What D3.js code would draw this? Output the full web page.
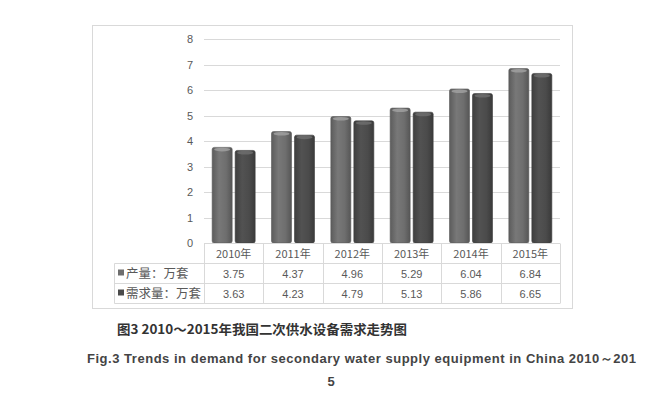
<!DOCTYPE html>
<html><head><meta charset="utf-8">
<script src="https://cdn.jsdelivr.net/npm/d3@7"></script>
<style>body{margin:0;background:#fff;} svg{display:block;}</style>
</head><body>
<svg id="c" width="672" height="395"></svg>
<script>
const categories = ["2010年","2011年","2012年","2013年","2014年","2015年"];
const seriesNames = ["产量：万套","需求量：万套"];
const production = [3.75,4.37,4.96,5.29,6.04,6.84];
const demand = [3.63,4.23,4.79,5.13,5.86,6.65];
const yTicks = [0,1,2,3,4,5,6,7,8];
const titleCN = "图3 2010～2015年我国二次供水设备需求走势图";
const titleEN1 = "Fig.3 Trends in demand for secondary water supply equipment in China 2010～201";
const titleEN2 = "5";

const svg = d3.select("#c");
const defs = svg.append("defs");
const colors = ["#6e6e6e","#4b4b4b"];
function grad(id, c){
  const g = defs.append("linearGradient").attr("id",id).attr("x1","0").attr("x2","1").attr("y1","0").attr("y2","0");
  const base = d3.color(c);
  g.append("stop").attr("offset","0%").attr("stop-color",base.darker(0.5));
  g.append("stop").attr("offset","35%").attr("stop-color",base.brighter(0.25));
  g.append("stop").attr("offset","70%").attr("stop-color",base);
  g.append("stop").attr("offset","100%").attr("stop-color",base.darker(0.7));
}
grad("g0",colors[0]); grad("g1",colors[1]);

// outer frame
svg.append("rect").attr("x",92.5).attr("y",25.5).attr("width",480).attr("height",283)
  .attr("fill","none").attr("stroke","#d9d9d9");

const x = d3.scaleBand().domain(categories).range([204,560]);
const y = d3.scaleLinear().domain([0,8]).range([243,39]);

// gridlines
svg.append("g").selectAll("line").data(yTicks.filter(d=>d>0)).join("line")
  .attr("x1",204).attr("x2",560).attr("y1",d=>Math.round(y(d))+0.5).attr("y2",d=>Math.round(y(d))+0.5)
  .attr("stroke","#d9d9d9");

// y axis labels
const yAxis = d3.axisLeft(y).tickValues(yTicks).tickSize(0).tickPadding(0);
const ya = svg.append("g").attr("transform","translate(193,0)").call(yAxis);
ya.select(".domain").remove();
ya.selectAll("text").attr("font-family","Liberation Sans, Arial, sans-serif").attr("font-size",11).attr("fill","#595959");

// bars
const barW = 20, gap = 3;
const series = [production, demand];
series.forEach((vals, si) => {
  const g = svg.append("g");
  const xs = d => x(categories[d]) + x.bandwidth()/2 - (barW + gap/2) + si*(barW+gap);
  g.selectAll("rect").data(vals.map((v,i)=>({v,i}))).join("rect")
    .attr("x",d=>xs(d.i)).attr("y",d=>y(d.v)).attr("width",barW).attr("height",d=>y(0)-y(d.v))
    .attr("rx",2).attr("fill",`url(#g${si})`).attr("stroke",d3.color(colors[si]).darker(0.6)).attr("stroke-width",0.6);
  g.selectAll("ellipse").data(vals.map((v,i)=>({v,i}))).join("ellipse")
    .attr("cx",d=>xs(d.i)+barW/2).attr("cy",d=>y(d.v)+2.2).attr("rx",barW/2-2).attr("ry",1.8)
    .attr("fill",d3.color(colors[si]).brighter(1.1)).attr("opacity",0.8);
});

// data table
const tbl = svg.append("g");
const rowsY = [243.5, 263.5, 283.5, 303.5];
const tLeft = 114.5, tRight = 560;
const tc = "#d9d9d9";
// horizontal lines
tbl.append("line").attr("x1",204).attr("x2",tRight).attr("y1",rowsY[0]).attr("y2",rowsY[0]).attr("stroke",tc);
[1,2,3].forEach(r=>tbl.append("line").attr("x1",tLeft).attr("x2",tRight).attr("y1",rowsY[r]).attr("y2",rowsY[r]).attr("stroke",tc));
// vertical lines
tbl.append("line").attr("x1",tLeft).attr("x2",tLeft).attr("y1",rowsY[1]).attr("y2",rowsY[3]).attr("stroke",tc);
categories.forEach(c=>{
  const xx = Math.round(x(c))+0.5;
  tbl.append("line").attr("x1",xx).attr("x2",xx).attr("y1",rowsY[0]).attr("y2",rowsY[3]).attr("stroke",tc);
});
tbl.append("line").attr("x1",tRight+0.5).attr("x2",tRight+0.5).attr("y1",rowsY[0]).attr("y2",rowsY[3]).attr("stroke",tc);

const font = "Liberation Sans, Arial, sans-serif";
const cjk = "'Noto Sans CJK SC', sans-serif";
tbl.selectAll("text.cat").data(categories).join("text").attr("class","cat")
  .attr("x",d=>x(d)+x.bandwidth()/2).attr("y",257.5).attr("text-anchor","middle")
  .attr("font-family",cjk).attr("font-size",11).attr("fill","#595959").text(d=>d);
series.forEach((vals,si)=>{
  const yy = rowsY[si+1] + 14;
  tbl.selectAll(`text.v${si}`).data(vals).join("text").attr("class",`v${si}`)
    .attr("x",(d,i)=>x(categories[i])+x.bandwidth()/2).attr("y",yy).attr("text-anchor","middle")
    .attr("font-family",font).attr("font-size",11).attr("fill","#595959").text(d=>d.toFixed(2));
  tbl.append("rect").attr("x",118).attr("y",yy-8).attr("width",6).attr("height",6).attr("fill",colors[si]);
  tbl.append("text").attr("x",126).attr("y",yy+0.5).attr("font-family",cjk).attr("font-size",12.5).attr("fill","#595959").text(seriesNames[si]);
});

// captions
svg.append("text").attr("x",117).attr("y",334).attr("font-family",cjk).attr("font-weight","bold")
  .attr("font-size",13).attr("fill","#333").attr("textLength",290).attr("lengthAdjust","spacingAndGlyphs").text(titleCN);
svg.append("text").attr("x",87).attr("y",363).attr("font-family",font).attr("font-weight","bold")
  .attr("font-size",13).attr("fill","#444").attr("textLength",549).attr("lengthAdjust","spacing").text(titleEN1);
svg.append("text").attr("x",331).attr("y",386).attr("text-anchor","middle").attr("font-family",font).attr("font-weight","bold")
  .attr("font-size",13).attr("fill","#444").text(titleEN2);
</script>
</body></html>
